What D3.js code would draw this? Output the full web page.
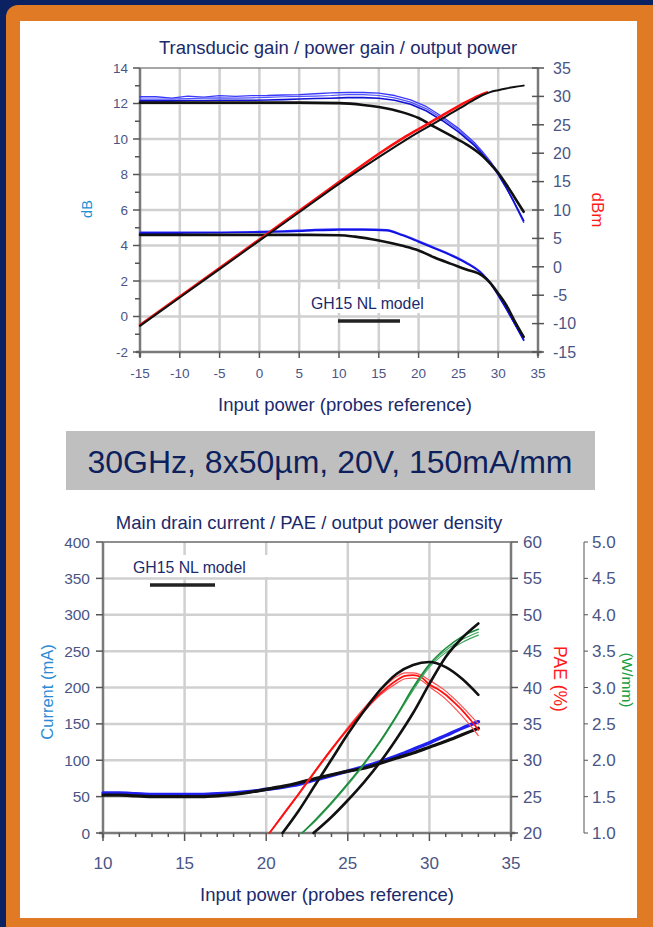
<!DOCTYPE html>
<html>
<head>
<meta charset="utf-8">
<script src="https://cdn.jsdelivr.net/npm/d3@7"></script>
<style>
  body { margin: 0; background: #0b2262; }
  svg { display: block; }
  text { font-family: "Liberation Sans", Arial, sans-serif; }
</style>
</head>
<body>
<svg id="c" width="653" height="927"></svg>
<script>
// ---------- Gain / output power chart data ----------
const topXTicks = [-15, -10, -5, 0, 5, 10, 15, 20, 25, 30, 35];
const dbTicks = [-2, 0, 2, 4, 6, 8, 10, 12, 14];
const dbmTicks = [-15, -10, -5, 0, 5, 10, 15, 20, 25, 30, 35];

// transducer gain, measured (three traces)
const pinTG = [-15, -13, -11, -9, -7, -5, -3, -1, 1, 3, 5, 7, 9, 11, 13, 15, 17, 19, 21, 23, 25, 27, 28, 29, 30, 31, 32, 33.2];
const tgMeasA = [12.38, 12.38, 12.30, 12.42, 12.36, 12.44, 12.40, 12.44, 12.45, 12.48, 12.50, 12.55, 12.60, 12.62, 12.62, 12.58, 12.45, 12.20, 11.82, 11.25, 10.60, 9.80, 9.30, 8.75, 8.10, 7.30, 6.40, 5.30];
const tgMeasB = [12.25, 12.25, 12.25, 12.28, 12.30, 12.32, 12.30, 12.32, 12.35, 12.38, 12.40, 12.42, 12.45, 12.50, 12.50, 12.45, 12.32, 12.08, 11.70, 11.15, 10.50, 9.72, 9.22, 8.70, 8.05, 7.28, 6.42, 5.35];
const tgMeasC = [12.15, 12.15, 12.15, 12.17, 12.17, 12.18, 12.18, 12.18, 12.20, 12.22, 12.25, 12.28, 12.30, 12.33, 12.33, 12.30, 12.18, 11.96, 11.58, 11.03, 10.40, 9.64, 9.16, 8.64, 8.00, 7.25, 6.45, 5.40];
// transducer gain, model
const pinTGm = [-15, -10, -5, 0, 5, 10, 13, 15, 18, 20, 22, 24, 26, 28, 29, 30, 31, 32, 33.2];
const tgModel = [12.05, 12.05, 12.05, 12.05, 12.05, 12.02, 11.92, 11.80, 11.50, 11.18, 10.68, 10.20, 9.70, 9.05, 8.60, 8.10, 7.45, 6.75, 5.90];

// power gain, measured (two traces)
const pinPG = [-15, -10, -5, 0, 5, 7, 10, 13, 16, 18, 20, 22, 24, 26, 28, 29, 30, 31, 32, 33.2];
const pgMeasA = [4.75, 4.75, 4.75, 4.78, 4.85, 4.90, 4.92, 4.92, 4.88, 4.60, 4.25, 3.88, 3.50, 3.05, 2.42, 1.90, 1.20, 0.45, -0.35, -1.35];
const pgMeasB = [4.70, 4.70, 4.72, 4.75, 4.80, 4.85, 4.87, 4.88, 4.84, 4.56, 4.20, 3.83, 3.45, 3.00, 2.38, 1.87, 1.18, 0.44, -0.36, -1.30];
// power gain, model
const pinPGm = [-15, -10, -5, 0, 5, 10, 12, 15, 18, 20, 22, 24, 26, 28, 29, 30, 31, 32, 33.2];
const pgModel = [4.60, 4.60, 4.60, 4.60, 4.60, 4.58, 4.50, 4.28, 3.98, 3.72, 3.32, 2.98, 2.65, 2.30, 1.90, 1.30, 0.65, -0.20, -1.15];

// output power (dBm), measured and model
const pinPoutM = [-15, -10, -5, 0, 5, 10, 15, 18, 20, 22, 24, 26, 27, 28, 28.6];
const poutMeas = [-10.25, -5.25, -0.20, 4.80, 9.85, 14.90, 19.90, 22.60, 24.25, 25.85, 27.50, 29.05, 29.75, 30.40, 30.70];
const pinPout = [-15, -10, -5, 0, 5, 10, 15, 18, 20, 22, 24, 26, 27, 28, 29, 30, 31, 32, 33.2];
const poutModel = [-10.40, -5.40, -0.40, 4.60, 9.60, 14.60, 19.30, 22.00, 23.70, 25.30, 26.95, 28.60, 29.45, 30.20, 30.75, 31.10, 31.40, 31.65, 31.90];

// ---------- Drain current / PAE / power density chart data ----------
const botXTicks = [10, 15, 20, 25, 30, 35];
const currentTicks = [0, 50, 100, 150, 200, 250, 300, 350, 400];
const paeTicks = [20, 25, 30, 35, 40, 45, 50, 55, 60];
const densityTicks = [1.0, 1.5, 2.0, 2.5, 3.0, 3.5, 4.0, 4.5, 5.0];

const pinCur = [10, 11, 12, 13, 14, 15, 16, 17, 18, 19, 20, 21, 22, 23, 24, 25, 26, 27, 28, 29, 30, 31, 32, 33];
const curMeas = [55, 55, 54, 53, 53, 53, 53, 54, 55, 57, 60, 63, 67, 73, 79, 85, 91, 98, 106, 115, 124, 134, 144, 153];
const curModel = [52, 52, 51, 50, 50, 50, 50, 51, 53, 56, 60, 64, 69, 75, 80, 85, 89, 96, 103, 110, 118, 126, 135, 144];

const pinPae = [20.2, 21, 22, 23, 24, 25, 26, 27, 28, 28.5, 29, 29.5, 30, 30.5, 31, 31.5, 32, 32.5, 33];
const paeMeasA = [20, 22.4, 25.4, 28.5, 31.5, 34.3, 36.9, 39.2, 41.0, 41.6, 41.7, 41.4, 40.4, 39.8, 39.0, 38.0, 36.9, 35.6, 34.2];
const paeMeasB = [20, 22.5, 25.5, 28.6, 31.6, 34.5, 37.2, 39.6, 41.5, 42.0, 42.0, 41.7, 41.0, 40.3, 39.5, 38.5, 37.4, 36.2, 35.0];
const paeMeasC = [20, 22.3, 25.3, 28.4, 31.4, 34.2, 36.7, 39.0, 40.6, 41.2, 41.3, 41.0, 40.1, 39.3, 38.4, 37.3, 36.1, 34.8, 33.4];
const pinPaeM = [21, 22, 23, 24, 25, 26, 27, 28, 29, 30, 31, 32, 33];
const paeModel = [20, 23.1, 26.6, 30.1, 33.6, 36.8, 39.7, 41.9, 43.1, 43.5, 42.8, 41.2, 39.0];

const pinDen = [22.2, 23, 24, 25, 26, 27, 28, 29, 30, 31, 32, 33];
const denMeasA = [1.00, 1.18, 1.42, 1.68, 1.96, 2.27, 2.62, 3.00, 3.32, 3.54, 3.70, 3.80];
const denMeasB = [1.00, 1.17, 1.41, 1.67, 1.95, 2.26, 2.61, 2.98, 3.30, 3.51, 3.66, 3.76];
const denMeasC = [1.00, 1.16, 1.40, 1.66, 1.94, 2.25, 2.60, 2.96, 3.28, 3.48, 3.62, 3.72];
const pinDenM = [22.9, 24, 25, 26, 27, 28, 29, 30, 31, 32, 33];
const denModel = [1.00, 1.22, 1.45, 1.70, 1.98, 2.30, 2.65, 3.05, 3.42, 3.68, 3.88];

// ---------- drawing ----------
const NAVY = "#1b2a6b";
const TICK = "#4a5585";
const GRID = "#d0d0d0";
const AXIS = "#7a7a7a";

const svg = d3.select("#c");

// slide frame
svg.append("rect").attr("width", 653).attr("height", 927).attr("fill", "#0b2262");
svg.append("rect").attr("x", 6).attr("y", 5).attr("width", 680).attr("height", 960).attr("rx", 12).attr("fill", "#e07a24");
svg.append("rect").attr("x", 20).attr("y", 21).attr("width", 617).attr("height", 897).attr("fill", "#fff");

const zip = (xs, ys) => xs.map((v, i) => [v, ys[i]]);

function drawLine(g, x, y, xs, ys, color, width, curve) {
  g.append("path")
    .datum(zip(xs, ys))
    .attr("fill", "none")
    .attr("stroke", color)
    .attr("stroke-width", width)
    .attr("stroke-linejoin", "round")
    .attr("stroke-linecap", "round")
    .attr("d", d3.line().x(d => x(d[0])).y(d => y(d[1])).curve(curve || d3.curveMonotoneX));
}

function hLine(g, x1, x2, y, color, w) {
  g.append("line").attr("x1", x1).attr("x2", x2).attr("y1", y).attr("y2", y).attr("stroke", color).attr("stroke-width", w);
}
function vLine(g, x, y1, y2, color, w) {
  g.append("line").attr("x1", x).attr("x2", x).attr("y1", y1).attr("y2", y2).attr("stroke", color).attr("stroke-width", w);
}
function label(g, x, y, txt, opts) {
  const t = g.append("text").attr("x", x).attr("y", y).text(txt)
    .attr("font-size", opts.size || 12)
    .attr("fill", opts.fill || TICK)
    .attr("text-anchor", opts.anchor || "start");
  if (opts.rotate) t.attr("transform", `rotate(${opts.rotate},${x},${y})`);
  if (opts.dy) t.attr("dy", opts.dy);
  return t;
}

// ===== Chart 1: transducer gain / power gain / output power =====
{
  const g = svg.append("g");
  const x = d3.scaleLinear().domain([-15, 35]).range([140, 538]);
  const yDb = d3.scaleLinear().domain([-2, 14]).range([352, 68]);
  const yDbm = d3.scaleLinear().domain([-15, 35]).range([352, 68]);

  label(g, 338, 54, "Transducic gain / power gain / output power", { size: 18.5, fill: NAVY, anchor: "middle" });

  // grid
  topXTicks.slice(1, -1).forEach(v => vLine(g, x(v), 68, 352, GRID, 2.5));
  dbTicks.slice(1, -1).forEach(v => hLine(g, 140, 538, yDb(v), GRID, 2.5));

  // legend box
  g.append("rect").attr("x", 300).attr("y", 289).attr("width", 128).attr("height", 24).attr("fill", "#fff");
  label(g, 311, 309, "GH15 NL model", { size: 15.8, fill: NAVY });
  hLine(g, 338, 400, 321, "#222", 3.5);

  // frame and axes
  hLine(g, 140, 538, 68, "#8a8a8a", 1.5);
  vLine(g, 538, 68, 356, AXIS, 2.5);
  vLine(g, 140, 68, 357, AXIS, 2.5);
  hLine(g, 136, 542, 352, AXIS, 2.5);

  // left dB axis
  d3.range(-2, 14.01, 1).forEach(v => {
    const major = v % 2 === 0;
    hLine(g, major ? 133 : 135, 140, yDb(v), "#555", 1.5);
  });
  dbTicks.forEach(v => label(g, 128, yDb(v), v, { anchor: "end", dy: "0.36em", size: 13.5 }));

  // right dBm axis
  dbmTicks.forEach(v => {
    hLine(g, 532, 544, yDbm(v), "#555", 1.5);
    label(g, 553, yDbm(v), v, { dy: "0.36em", size: 16 });
  });

  // bottom axis
  topXTicks.forEach(v => {
    vLine(g, x(v), 352, 358, "#555", 1.5);
    label(g, x(v), 378, v, { anchor: "middle", size: 13.5 });
  });

  label(g, 345, 411, "Input power (probes reference)", { size: 18.5, fill: NAVY, anchor: "middle" });
  label(g, 92, 209, "dB", { size: 14.5, fill: "#1f8fd6", anchor: "middle", rotate: -90 });
  label(g, 592, 210, "dBm", { size: 17, fill: "#ff1a1a", anchor: "middle", rotate: 90 });

  // measured (blue) gains
  drawLine(g, x, yDb, pinTG, tgMeasA, "#3a3aff", 1.3, d3.curveLinear);
  drawLine(g, x, yDb, pinTG, tgMeasB, "#5050ff", 1.2, d3.curveLinear);
  drawLine(g, x, yDb, pinTG, tgMeasC, "#1010d0", 1.6, d3.curveLinear);
  drawLine(g, x, yDb, pinPG, pgMeasA, "#2a2aff", 1.6);
  drawLine(g, x, yDb, pinPG, pgMeasB, "#1010e0", 1.6);
  // model gains
  drawLine(g, x, yDb, pinTGm, tgModel, "#111", 2.6);
  drawLine(g, x, yDb, pinPGm, pgModel, "#111", 2.6);
  // output power
  drawLine(g, x, yDbm, pinPoutM, poutMeas, "#ff1010", 2.6);
  drawLine(g, x, yDbm, pinPout, poutModel, "#111", 2.0);
}

// ===== operating point banner =====
svg.append("rect").attr("x", 66).attr("y", 431).attr("width", 529).attr("height", 59).attr("fill", "#bfbfbf");
label(svg, 330, 473, "30GHz, 8x50µm, 20V, 150mA/mm", { size: 32, fill: "#0d1f5c", anchor: "middle" });

// ===== Chart 2: drain current / PAE / output power density =====
{
  const g = svg.append("g");
  const x = d3.scaleLinear().domain([10, 35]).range([103, 511]);
  const yCur = d3.scaleLinear().domain([0, 400]).range([833, 542]);
  const yPae = d3.scaleLinear().domain([20, 60]).range([833, 542]);
  const yDen = d3.scaleLinear().domain([1, 5]).range([833, 542]);

  label(g, 309, 529, "Main drain current / PAE / output power density", { size: 18.5, fill: NAVY, anchor: "middle" });

  // grid
  botXTicks.slice(1, -1).forEach(v => vLine(g, x(v), 542, 833, GRID, 2.5));
  currentTicks.slice(1, -1).forEach(v => hLine(g, 103, 511, yCur(v), GRID, 2.5));

  // legend box
  g.append("rect").attr("x", 110).attr("y", 555).attr("width", 160).attr("height", 22).attr("fill", "#fff");
  label(g, 133, 573, "GH15 NL model", { size: 15.8, fill: NAVY });
  hLine(g, 150, 215, 585, "#222", 3.5);

  // frame and axes
  hLine(g, 103, 511, 542, "#6a6a6a", 1.5);
  vLine(g, 511, 542, 837, AXIS, 2.5);
  vLine(g, 103, 542, 838, AXIS, 2.5);
  hLine(g, 99, 515, 833, AXIS, 2.5);

  currentTicks.forEach(v => {
    hLine(g, 96, 103, yCur(v), "#555", 1.5);
    label(g, 90, yCur(v), v, { anchor: "end", dy: "0.36em", size: 15.5 });
  });
  paeTicks.forEach(v => {
    hLine(g, 511, 518, yPae(v), "#555", 1.5);
    label(g, 523, yPae(v), v, { dy: "0.36em", size: 17 });
  });
  vLine(g, 584, 542, 833, "#555", 1);
  densityTicks.forEach(v => {
    hLine(g, 584, 588, yDen(v), "#555", 1);
    label(g, 592, yDen(v), v.toFixed(1), { dy: "0.36em", size: 17 });
  });
  d3.range(10, 35.01, 1).forEach(v => {
    const major = v % 5 === 0;
    vLine(g, x(v), 833, major ? 841 : 837, "#555", 1.5);
  });
  botXTicks.forEach(v => label(g, x(v), 869, v, { anchor: "middle", size: 17 }));

  label(g, 327, 901, "Input power (probes reference)", { size: 18.5, fill: NAVY, anchor: "middle" });
  label(g, 53, 692, "Current (mA)", { size: 16.5, fill: "#2a8ad6", anchor: "middle", rotate: -90 });
  label(g, 554, 679, "PAE (%)", { size: 17.5, fill: "#ff1a1a", anchor: "middle", rotate: 90 });
  label(g, 622, 680, "(W/mm)", { size: 15.5, fill: "#1aa040", anchor: "middle", rotate: 90 });

  // drain current
  drawLine(g, x, yCur, pinCur, curMeas, "#2020f0", 3.5);
  drawLine(g, x, yCur, pinCur, curModel, "#111", 3.2);
  // PAE measured
  drawLine(g, x, yPae, pinPae, paeMeasB, "#ff5050", 1.2);
  drawLine(g, x, yPae, pinPae, paeMeasC, "#ff5050", 1.2);
  drawLine(g, x, yPae, pinPae, paeMeasA, "#ff1010", 1.8);
  // power density measured
  drawLine(g, x, yDen, pinDen, denMeasB, "#40a860", 1.1);
  drawLine(g, x, yDen, pinDen, denMeasC, "#40a860", 1.1);
  drawLine(g, x, yDen, pinDen, denMeasA, "#1a8a3a", 1.5);
  // models
  drawLine(g, x, yPae, pinPaeM, paeModel, "#111", 2.6);
  drawLine(g, x, yDen, pinDenM, denModel, "#111", 2.6);
}
</script>
</body>
</html>
